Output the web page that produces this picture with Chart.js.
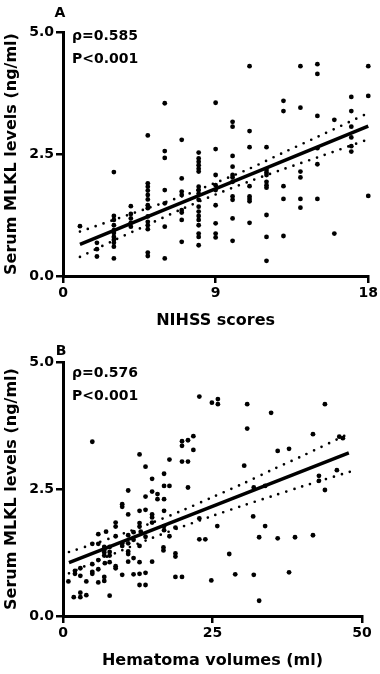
<!DOCTYPE html>
<html><head><meta charset="utf-8">
<script src="https://cdn.jsdelivr.net/npm/chart.js@4.4.1/dist/chart.umd.min.js"></script>
<style>
html,body{margin:0;padding:0;background:#fff;width:380px;height:674px;overflow:hidden}
canvas{position:absolute;left:0}
#ca{top:0}
#cb{top:336px}
</style></head><body>
<canvas id="ca" width="380" height="336"></canvas>
<canvas id="cb" width="380" height="338"></canvas>
<script>
// ---------- Panel A data: NIHSS scores vs serum MLKL ----------
const nihssColumns = [1,2,3,4,5,6,7,8,9,10,11,12,13,14,15,16,17,18];
const mlklByNihss = [
  [1.02],
  [0.68,0.55,0.40],
  [2.13,1.23,1.15,1.04,0.94,0.88,0.80,0.74,0.68,0.60,0.36],
  [1.43,1.27,1.18,1.09,1.01],
  [2.88,1.90,1.83,1.75,1.66,1.57,1.45,1.39,1.22,1.11,1.04,0.96,0.48,0.41],
  [3.54,2.56,2.42,1.76,1.49,1.01,0.36],
  [2.79,2.00,1.73,1.66,1.35,1.30,1.15,0.70],
  [2.53,2.41,2.34,2.27,2.20,2.14,1.83,1.76,1.69,1.56,1.42,1.32,1.23,1.15,1.04,0.87,0.80,0.63],
  [3.55,2.60,2.07,1.86,1.76,1.45,1.08,0.87,0.79],
  [3.16,3.06,2.46,2.24,2.07,2.02,1.93,1.63,1.56,1.18,0.72],
  [4.30,2.97,2.64,1.84,1.63,1.58,1.53,1.09],
  [2.64,2.17,2.12,2.07,1.93,1.86,1.81,1.25,0.80,0.31],
  [3.59,3.38,1.84,1.58,0.82],
  [4.30,3.45,2.14,2.02,1.58,1.40],
  [4.34,4.14,3.28,2.62,2.29,1.58],
  [3.20,0.87],
  [3.67,3.38,3.06,2.84,2.66,2.55],
  [4.30,3.69,1.64]
];
const fitAx = [1, 18];
const fitAy = [0.65, 3.07];
const bandAx = [1, 3, 5, 7, 9, 11, 13, 15, 18];
const bandAupper = [0.91, 1.15, 1.39, 1.63, 1.91, 2.20, 2.53, 2.85, 3.34];
const bandAlower = [0.39, 0.73, 1.05, 1.37, 1.67, 1.94, 2.19, 2.43, 2.80];
const xTicksA = [0, 9, 18];

// ---------- Panel B data: hematoma volume vs serum MLKL ----------
const hematomaVol = [
  4.9,12.8,13.8,10.9,9.9,9.9,10.9,12.8,13.8,13.8,14.9,14.9,14.9,14.9,15.8,15.8,16.9,16.9,16.9,17.8,
  17.8,16.9,19.9,19.9,20.9,21.8,21.8,19.9,20.9,20.9,18.8,18.8,16.8,16.8,17.8,16.9,18.8,22.8,22.8,23.8,
  24.8,25.8,18.8,19.9,12.8,13.8,13.8,11.8,9.9,7.8,6.9,6.9,5.9,4.9,4.9,4.9,3.9,2.9,2.0,2.0,
  0.9,1.8,2.9,2.9,3.9,2.9,5.9,7.0,5.9,7.8,8.8,8.8,7.8,7.8,6.9,6.9,6.9,6.9,7.8,5.9,
  4.9,5.9,7.2,8.8,8.8,8.8,9.9,9.9,10.9,10.9,10.9,10.9,11.8,12.8,12.8,11.8,12.8,12.8,11.8,13.8,
  14.9,12.8,10.9,13.0,14.9,16.9,
  22.8,24.9,25.9,25.9,30.8,34.8,43.8,30.8,41.8,46.8,46.2,35.9,37.8,30.3,31.9,33.8,42.8,42.8,43.8,45.8,
  31.8,33.8,32.8,35.9,38.8,41.8,27.8,28.8,31.9,37.8,32.8
];
const mlklB = [
  3.43,3.18,2.94,2.47,2.20,2.15,2.00,2.07,2.35,2.09,2.70,2.45,2.00,1.94,2.40,2.30,2.80,2.56,2.30,3.08,
  2.56,2.07,3.44,3.35,3.46,3.54,3.27,3.04,3.04,2.53,1.23,1.17,1.35,1.29,1.57,1.69,1.74,1.92,1.51,1.51,
  0.70,1.77,0.77,0.77,0.61,0.61,0.85,0.82,0.81,0.40,0.77,0.69,0.66,0.87,0.83,1.02,0.68,0.79,0.89,0.83,
  0.68,0.37,0.46,0.37,0.41,0.94,0.92,1.04,1.10,1.06,0.98,0.94,1.19,1.26,1.19,1.25,1.30,1.36,1.36,1.42,
  1.42,1.61,1.66,1.57,1.76,1.84,1.43,1.38,1.43,1.27,1.22,1.07,1.14,1.06,1.38,1.65,1.83,1.76,1.50,1.56,
  1.07,0.83,1.59,1.66,1.84,1.77,
  4.32,4.20,4.27,4.17,4.17,4.00,4.17,3.69,3.58,3.50,3.53,3.25,3.29,2.96,2.53,2.56,2.76,2.66,2.48,2.87,
  1.96,1.77,1.55,1.53,1.55,1.59,1.22,0.82,0.81,0.86,0.30
];
const fitBx = [1, 47.8];
const fitBy = [1.05, 3.21];
const bandBx = [1, 5, 10, 15, 20, 25, 30, 35, 40, 48];
const bandBupper = [1.26, 1.41, 1.62, 1.84, 2.08, 2.34, 2.60, 2.88, 3.15, 3.60];
const bandBlower = [0.84, 1.05, 1.30, 1.54, 1.76, 1.97, 2.17, 2.36, 2.55, 2.84];
const xTicksB = [0, 25, 50];

const yTicks = [0, 2.5, 5];

// ---------- helpers ----------
const FONT = '"DejaVu Sans", "Liberation Sans", sans-serif';
Chart.defaults.font.family = FONT;
Chart.defaults.font.weight = 'bold';
Chart.defaults.color = '#000';

function zip(xs, ys) { return xs.map((x, i) => ({x, y: ys[i]})); }

const ptsA = [];
nihssColumns.forEach((n, i) => mlklByNihss[i].forEach(v => ptsA.push({x: n, y: v})));
const ptsB = zip(hematomaVol, mlklB);

const textPlugin = {
  id: 'panelText',
  afterDraw(chart, args, o) {
    const ctx = chart.ctx;
    ctx.save();
    ctx.fillStyle = '#000';
    ctx.font = 'bold 14px ' + FONT;
    ctx.textBaseline = 'alphabetic';
    ctx.textAlign = 'center';
    ctx.fillText(o.label, o.labelX, o.labelY);
    ctx.textAlign = 'left';
    o.lines.forEach((t, i) => ctx.fillText(t, o.x, o.y + i * 23));
    ctx.restore();
  }
};

function makeChart(id, pts, fx, fy, bx, bu, bl, xmax, xstep, xTitle, pad, xH, titlePadB, txt) {
  const lineDs = (data, dotted) => ({
    type: 'line', data, showLine: true, pointRadius: 0, borderColor: '#000',
    backgroundColor: '#000', fill: false, clip: false,
    borderWidth: dotted ? 2.7 : 3.5,
    borderDash: dotted ? [0, 8.3] : [],
    borderCapStyle: dotted ? 'round' : 'butt',
    tension: dotted ? 0.3 : 0
  });
  return new Chart(document.getElementById(id), {
    type: 'scatter',
    data: {
      datasets: [
        {data: pts, pointRadius: 2.4, pointBackgroundColor: '#000', pointBorderWidth: 0, clip: false},
        lineDs(zip(fx, fy), false),
        lineDs(zip(bx, bu), true),
        lineDs(zip(bx, bl), true)
      ]
    },
    options: {
      responsive: false, animation: false, events: [],
      layout: {padding: pad},
      plugins: {legend: {display: false}, tooltip: {enabled: false}, panelText: txt},
      scales: {
        x: {
          type: 'linear', min: 0, max: xmax,
          afterBuildTicks: s => { s.ticks = (xmax === 18 ? xTicksA : xTicksB).map(v => ({value: v})); },
          ticks: {padding: 2, font: {size: 14, weight: 'bold'}, color: '#000', maxRotation: 0},
          grid: {display: true, drawOnChartArea: false, drawTicks: true, tickLength: 7, color: '#000', lineWidth: 2.5},
          border: {display: true, color: '#000', width: 3},
          title: {display: true, text: xTitle, font: {size: 16, weight: 'bold'}, color: '#000', padding: {top: 0, bottom: titlePadB}},
          afterFit: s => { s.height = xH; }
        },
        y: {
          type: 'linear', min: 0, max: 5,
          afterBuildTicks: s => { s.ticks = yTicks.map(v => ({value: v})); },
          ticks: {padding: 2, font: {size: 14, weight: 'bold'}, color: '#000', callback: v => Number(v).toFixed(1)},
          grid: {display: true, drawOnChartArea: false, drawTicks: true, tickLength: 7, color: '#000', lineWidth: 2.5},
          border: {display: true, color: '#000', width: 3},
          title: {display: true, text: 'Serum MLKL levels (ng/ml)', font: {size: 16, weight: 'bold'}, color: '#000', padding: {top: 2.5, bottom: 0}},
          afterFit: s => { s.width = 63; }
        }
      }
    },
    plugins: [textPlugin]
  });
}

makeChart('ca', ptsA, fitAx, fitAy, bandAx, bandAupper, bandAlower, 18, 9, 'NIHSS scores',
  {top: 32, right: 11, bottom: 0, left: 0}, 60, 5.4,
  {label: 'A', labelX: 60, labelY: 17, x: 72, y: 40, lines: ['ρ=0.585', 'P<0.001']});

makeChart('cb', ptsB, fitBx, fitBy, bandBx, bandBupper, bandBlower, 50, 25, 'Hematoma volumes (ml)',
  {top: 26, right: 18, bottom: 0, left: 0}, 58, 3.4,
  {label: 'B', labelX: 61, labelY: 19, x: 72, y: 41, lines: ['ρ=0.576', 'P<0.001']});
</script>
</body></html>
